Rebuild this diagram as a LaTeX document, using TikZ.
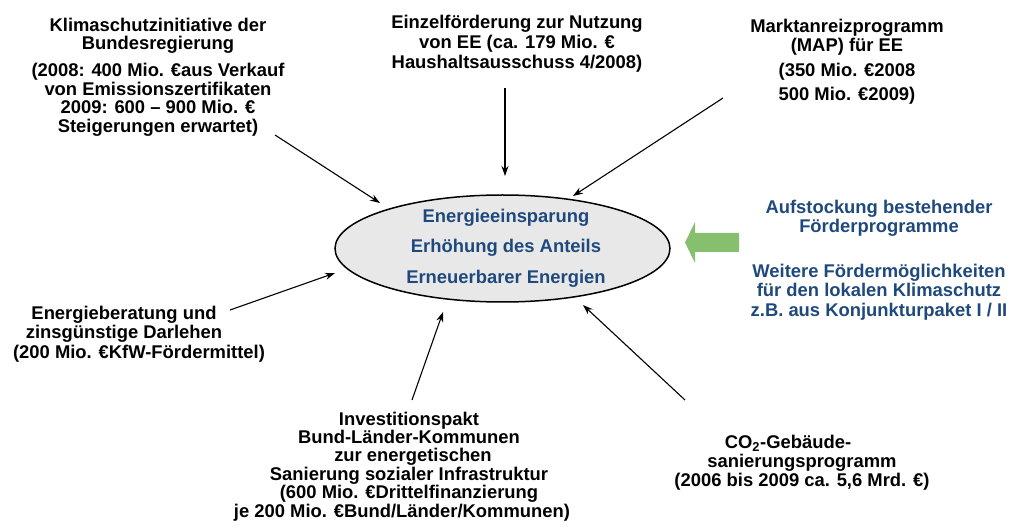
\documentclass[tikz,border=0pt]{standalone}
\usepackage{fontspec}
\setmainfont{Liberation Sans}
\usetikzlibrary{shapes.geometric,arrows.meta}
\definecolor{txtblue}{HTML}{1F497D}
\definecolor{arrgreen}{HTML}{86C06E}
\definecolor{ellfill}{HTML}{E8E8E8}
\begin{document}
\begin{tikzpicture}[x=1pt,y=-1pt,
  lbl/.style={align=center, inner sep=0pt, anchor=north},
  fs/.style={font=\bfseries\fontsize{18.4}{#1}\selectfont},
  bluelbl/.style={lbl, text=txtblue},
  conn/.style={line width=1.1pt, -{Stealth[length=10pt,width=7pt]}},
  goal/.style={ellipse, draw=black, line width=1.5pt, fill=ellfill, minimum width=335pt, minimum height=107pt, inner sep=0pt},
]
\useasboundingbox (0,0) rectangle (1010,529);

% central ellipse
\node[goal] (ell) at (502.5,248.5) {};
\node[bluelbl, fs=30.5] (elltext) at (506,208.6)
  {Energieeinsparung\\ Erhöhung des Anteils\\ Erneuerbarer Energien};

% green arrow
\fill[arrgreen] (685,242.5) -- (695,222) -- (695,233) -- (739,233) -- (739,252)
  -- (695,252) -- (695,263) -- cycle;

% right blue text
\node[bluelbl, fs=19.5] (aufst) at (879,199.6)
  {Aufstockung bestehender\\ Förderprogramme\\[25pt]
   Weitere Fördermöglichkeiten\\ für den lokalen Klimaschutz\\ z.B. aus Konjunkturpaket I / II};

% surrounding programmes
\node[lbl, fs=18.5] (klima) at (158,17.6)
  {Klimaschutzinitiative der\\ Bundesregierung\\[8.5pt]
   (2008: 400 Mio. €aus Verkauf\\ von Emissionszertifikaten\\
   2009: 600 – 900 Mio. €\\ Steigerungen erwartet)};
\node[lbl, fs=20] (einzel) at (517,14.6)
  {Einzelförderung zur Nutzung\\ von EE (ca. 179 Mio. €\\ Haushaltsausschuss 4/2008)};
\node[lbl, fs=19] (map) at (847,18.6)
  {Marktanreizprogramm\\ (MAP) für EE\\[6pt] (350 Mio. €2008\\[5pt] 500 Mio. €2009)};
\node[lbl, fs=19.5] (berat) at (124,305.6)
  {Energieberatung und\\ zinsgünstige Darlehen\\ \hspace*{30pt}(200 Mio. €KfW-Fördermittel)};
\node[lbl, fs=18.4] (invest) at (409,411.6)
  {Investitionspakt\\ Bund-Länder-Kommunen\\ \hspace*{8pt}zur energetischen\\
   Sanierung sozialer Infrastruktur\\ (600 Mio. €Drittelfinanzierung\\
   je 200 Mio. €Bund/Länder/Kommunen)\hspace*{14pt}};
\node[lbl, fs=19] (co2) at (802,434.6)
  {CO\textsubscript{2}-Gebäude-\hspace*{28pt}\\ sanierungsprogramm\\ (2006 bis 2009 ca. 5,6 Mrd. €)};

% connector ends
\coordinate (s1) at (275,135);  \coordinate (t1) at (380,203);
\coordinate (s2) at (505,88);   \coordinate (t2) at (505,176);
\coordinate (s3) at (723,98);   \coordinate (t3) at (573,196);
\coordinate (s4) at (230,310);  \coordinate (t4) at (335,273);
\coordinate (s5) at (412,400);  \coordinate (t5) at (443,312);
\coordinate (s6) at (685,400);  \coordinate (t6) at (583,305);

\draw[conn] (s1) -- (t1);
\draw[conn] (s2) -- (t2);
\draw[conn] (s3) -- (t3);
\draw[conn] (s4) -- (t4);
\draw[conn] (s5) -- (t5);
\draw[conn] (s6) -- (t6);
\end{tikzpicture}
\end{document}
